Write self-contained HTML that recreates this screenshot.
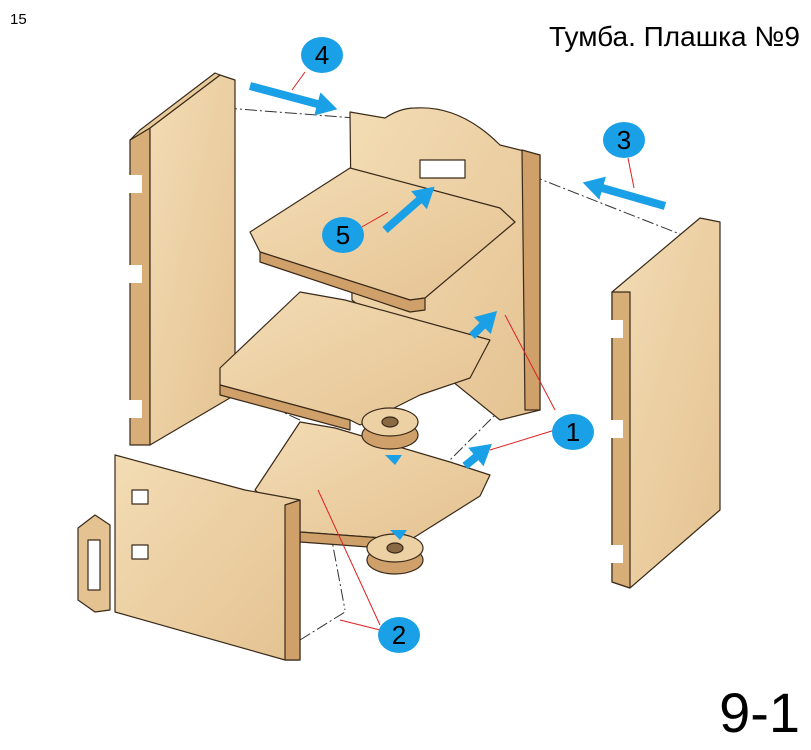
<!DOCTYPE html>
<html><head><meta charset="utf-8"><style>
html,body{margin:0;padding:0;background:#fff;width:811px;height:750px;overflow:hidden}
svg{display:block}
</style></head><body>
<svg width="811" height="750" viewBox="0 0 811 750" xmlns="http://www.w3.org/2000/svg">
<defs>
<linearGradient id="w" x1="0" y1="0" x2="1" y2="1"><stop offset="0" stop-color="#f3dcb4"/><stop offset="1" stop-color="#e4c291"/></linearGradient>
<marker id="ah" markerWidth="2.6" markerHeight="3" refX="1" refY="1.5" orient="auto"><path d="M0,0 L2.6,1.5 L0,3 z" fill="#1aa0e6"/></marker>
</defs>
<g font-family="Liberation Sans, DejaVu Sans, sans-serif">
<text x="10" y="24" font-size="15">15</text>
<text x="800" y="46" font-size="28" text-anchor="end">Тумба. Плашка №9</text>
<text x="800" y="732" font-size="56" text-anchor="end">9-1</text>
</g>
<g stroke="#333" stroke-width="1" stroke-dasharray="12,3,2,3" fill="none">
<line x1="225" y1="108" x2="355" y2="118"/>
<line x1="512" y1="168" x2="690" y2="238"/>
<line x1="235" y1="390" x2="300" y2="420"/>
<line x1="120" y1="560" x2="250" y2="500"/>
<line x1="330" y1="530" x2="345" y2="610"/>
<line x1="300" y1="640" x2="345" y2="612"/>
<line x1="440" y1="470" x2="500" y2="410"/>
</g>
<g stroke="#3a2a1a" stroke-width="1.2" stroke-linejoin="round">
<polygon points="130,140 150,128 150,445 130,445" fill="#d8ae78"/>
<polygon points="150,128 220,75 235,80 235,395 150,445" fill="url(#w)"/>
<polygon points="130,140 140,130 215,73 220,75 150,128" fill="#e9cc9c"/>
<g fill="#fff" stroke="none"><rect x="127" y="175" width="15" height="18"/><rect x="127" y="265" width="15" height="18"/><rect x="127" y="400" width="15" height="18"/></g>
<path d="M350,112 L385,118 Q400,108 415,108 Q460,105 500,145 L540,155 L540,410 L500,420 L352,300 Z" fill="url(#w)"/>
<polygon points="522,150 540,155 540,410 525,410" fill="#cfa06a"/>
<rect x="420" y="160" width="45" height="18" fill="#fff"/>
<polygon points="250,232 350,168 500,208 515,222 425,298 410,300 260,252" fill="url(#w)"/>
<polygon points="260,252 410,300 425,298 425,310 410,312 260,262" fill="#cfa06a"/>
<polygon points="220,368 300,292 345,300 490,340 470,378 420,395 360,425 350,420 220,385" fill="url(#w)"/>
<polygon points="220,385 350,420 350,430 220,395" fill="#cfa06a"/>
<polygon points="612,292 700,218 720,222 720,510 630,588 612,582" fill="url(#w)"/>
<polygon points="612,292 630,292 630,588 612,582" fill="#d8ae78"/>
<g fill="#fff" stroke="none"><rect x="608" y="320" width="15" height="18"/><rect x="608" y="420" width="15" height="18"/><rect x="608" y="545" width="15" height="18"/></g>
<polygon points="255,490 300,422 335,428 450,462 490,475 480,496 410,540 300,532" fill="url(#w)"/>
<polygon points="300,532 410,540 410,550 300,542" fill="#cfa06a"/>
<ellipse cx="390" cy="435" rx="28" ry="14" fill="#cfa06a"/>
<ellipse cx="390" cy="422" rx="28" ry="14" fill="#ecd1a4"/>
<ellipse cx="390" cy="422" rx="8" ry="5" fill="#8a6a44"/>
<ellipse cx="395" cy="560" rx="28" ry="14" fill="#cfa06a"/>
<ellipse cx="395" cy="548" rx="28" ry="14" fill="#ecd1a4"/>
<ellipse cx="395" cy="548" rx="8" ry="5" fill="#8a6a44"/>
<polygon points="115,455 245,490 300,500 300,660 285,660 115,612" fill="url(#w)"/>
<polygon points="285,505 300,500 300,660 285,660" fill="#cfa06a"/>
<rect x="132" y="490" width="16" height="14" fill="#fff"/>
<rect x="132" y="545" width="16" height="14" fill="#fff"/>
<polygon points="78,528 95,515 110,525 110,610 95,612 78,600" fill="#e4c291"/>
<rect x="88" y="540" width="12" height="50" fill="#fff"/>
</g>
<g stroke="#e02020" stroke-width="1" fill="none">
<line x1="305" y1="72" x2="292" y2="90"/>
<line x1="628" y1="158" x2="634" y2="188"/>
<line x1="360" y1="228" x2="388" y2="212"/>
<line x1="555" y1="430" x2="490" y2="450"/>
<line x1="555" y1="410" x2="505" y2="315"/>
<line x1="380" y1="625" x2="318" y2="490"/>
<line x1="380" y1="630" x2="340" y2="620"/>
</g>
<g stroke="#1aa0e6" stroke-width="8" fill="none" marker-end="url(#ah)">
<line x1="250" y1="86" x2="325" y2="106"/>
<line x1="665" y1="206" x2="595" y2="186"/>
<line x1="385" y1="230" x2="425" y2="195"/>
<line x1="472" y1="336" x2="488" y2="320"/>
<line x1="465" y1="466" x2="482" y2="452"/>
</g>
<g fill="#1aa0e6"><polygon points="385,455 395,465 402,455"/><polygon points="390,530 400,540 407,530"/></g>
<g font-family="Liberation Sans, DejaVu Sans, sans-serif" font-size="26" text-anchor="middle">
<ellipse cx="322" cy="55" rx="21" ry="18" fill="#1aa0e6"/><text x="322" y="64">4</text>
<ellipse cx="624" cy="140" rx="21" ry="18" fill="#1aa0e6"/><text x="624" y="149">3</text>
<ellipse cx="343" cy="235" rx="21" ry="18" fill="#1aa0e6"/><text x="343" y="244">5</text>
<ellipse cx="573" cy="432" rx="21" ry="18" fill="#1aa0e6"/><text x="573" y="441">1</text>
<ellipse cx="399" cy="635" rx="21" ry="18" fill="#1aa0e6"/><text x="399" y="644">2</text>
</g>
</svg>
</body></html>
